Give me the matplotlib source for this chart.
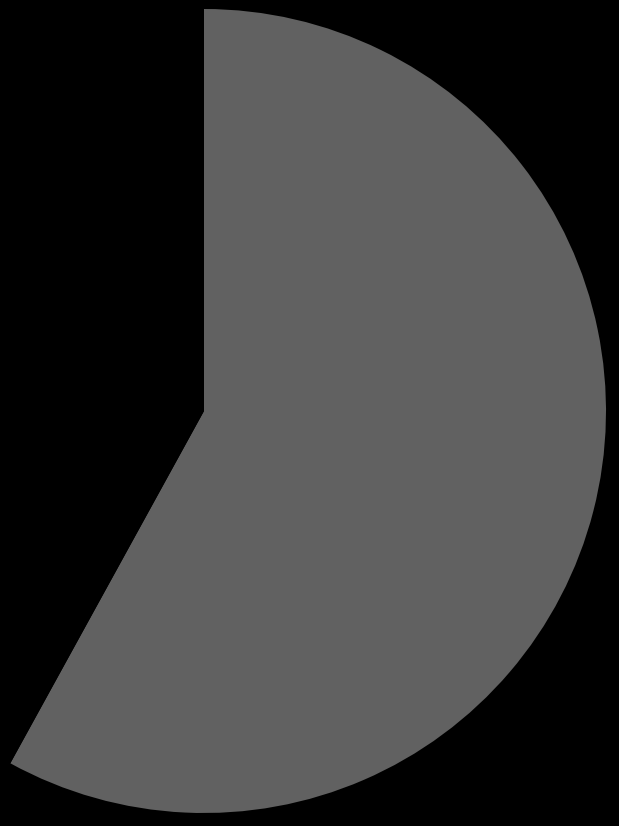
import matplotlib
matplotlib.use("Agg")
import matplotlib.pyplot as plt

labels = ["Shown", "Rest"]
shares = [58, 42]
colors = ["#616161", "#000000"]

fig = plt.figure(figsize=(6.19, 8.26), dpi=100, facecolor="black")

# pie centre sits at about (204, 411) px, radius about 401 px
cx, cy, r = 204, 411, 402
W, H = 619, 826
ax = fig.add_axes([(cx - r) / W, (H - cy - r) / H, 2 * r / W, 2 * r / H])
ax.set_facecolor("black")

ax.pie(shares, colors=colors, startangle=90, counterclock=False,
       radius=1, wedgeprops=dict(linewidth=0))
ax.set_xlim(-1, 1)
ax.set_ylim(-1, 1)
ax.set_aspect("auto")
ax.axis("off")

fig.savefig("out.png", dpi=100, facecolor="black")
